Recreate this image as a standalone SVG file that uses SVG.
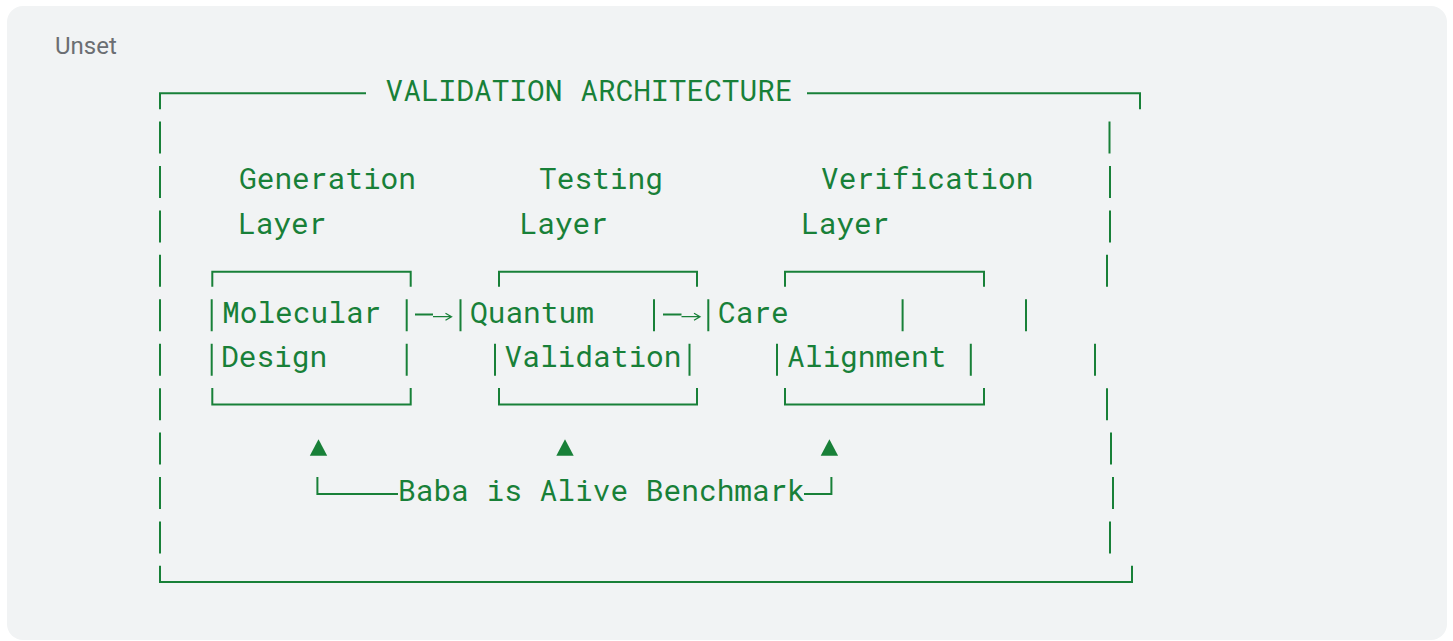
<svg xmlns="http://www.w3.org/2000/svg" width="1453" height="641" viewBox="0 0 1453 641">
<style>
.bg{fill:#f1f3f4}
.lbl{font-family:Roboto,"Liberation Sans",sans-serif;font-size:24px;fill:#6b6e72}
.t{font-family:"Roboto Mono","DejaVu Sans Mono","Liberation Mono",monospace;font-size:29.5px;fill:#188038}
.ln{fill:none;stroke:#188038;stroke-width:2}
.thin{fill:none;stroke:#188038;stroke-width:1.3}
.tri{fill:#188038}
</style>
<rect width="1453" height="641" fill="#ffffff"/>
<rect class="bg" x="7" y="6" width="1440" height="634" rx="16"/>
<text class="lbl" x="55" y="54">Unset</text>

<g id="frame">
<path class="ln" d="M160 109.3V93.3H366M807 93.3H1140V109.3M160 565.7V582H1132V565.7"/>
<path class="ln" d="M160 121.5V153.5M160 165.9V197.9M160 210.4V242.4M160 254.8V286.8M160 299.3V331.3M160 343.7V375.7M160 388.2V420.2M160 432.6V464.6M160 477.1V509.1M160 521.5V553.5"/>
<path class="ln" d="M1109.5 121.5V153.5M1110 165.9V197.9M1110 210.4V242.4M1107 254.8V286.8M1026 299.3V331.3M1095 343.7V375.7M1107 388.2V420.2M1111 432.6V464.6M1113 477.1V509.1M1110 521.5V553.5"/>
<text class="t" x="385.5" y="100.5">VALIDATION ARCHITECTURE</text>
</g>

<g id="generation">
<text class="t" x="239" y="189.4">Generation</text>
<text class="t" x="238" y="233.9">Layer</text>
<path class="ln" d="M212.3 286.8V271.7H410.7V286.8M211.7 299.3V331.3M406.7 299.3V331.3M211.7 343.7V375.7M406.7 343.7V375.7M212.3 388V404.5H410.7V388"/>
<text class="t" x="222" y="322.8">Molecular</text>
<text class="t" x="221" y="367.2">Design</text>
</g>

<g id="testing">
<text class="t" x="539" y="189.4">Testing</text>
<text class="t" x="519.5" y="233.9">Layer</text>
<path class="ln" d="M499 286.8V271.7H697V286.8M460.5 299.3V331.3M654 299.3V331.3M495 343.7V375.7M689.5 343.7V375.7M499 388V404.5H697V388"/>
<text class="t" x="470" y="322.8">Quantum</text>
<text class="t" x="504.5" y="367.2">Validation</text>
</g>

<g id="verification">
<text class="t" x="821" y="189.4">Verification</text>
<text class="t" x="801" y="233.9">Layer</text>
<path class="ln" d="M785 286.8V271.7H984V286.8M708.3 299.3V331.3M902.6 299.3V331.3M777 343.7V375.7M970.8 343.7V375.7M785 388V404.5H984V388"/>
<text class="t" x="718" y="322.8">Care</text>
<text class="t" x="787" y="367.2">Alignment</text>
</g>

<g id="benchmark">
<text class="t" x="398" y="500.6">Baba is Alive Benchmark</text>
</g>

<g id="connectors">
<path class="ln" d="M415 314.5H433M663 314.5H681.5"/>
<path class="thin" d="M433 316.7H451.5M445.5 313.2L451.5 316.7L445.5 320.2M681.5 316.7H700M694 313.2L700 316.7L694 320.2"/>
<polygon class="tri" points="309.8,455.7 318.5,439.3 327.2,455.7"/>
<polygon class="tri" points="556.3,455.7 565,439.3 573.7,455.7"/>
<polygon class="tri" points="820.7,455.7 829.4,439.3 838.1,455.7"/>
<path class="ln" d="M317.4 477.1V494H398M804 494H831.4V477.1"/>
</g>
</svg>
